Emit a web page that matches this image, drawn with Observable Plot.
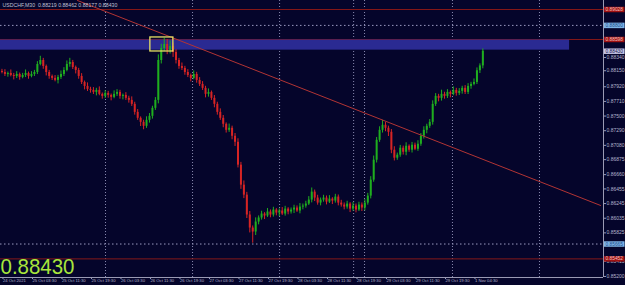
<!DOCTYPE html>
<html>
<head>
<meta charset="utf-8">
<script src="https://cdn.jsdelivr.net/npm/d3@7"></script>
<script src="https://cdn.jsdelivr.net/npm/@observablehq/plot@0.6"></script>
<style>
  html, body { margin: 0; padding: 0; background: #05052b; }
  #chart svg { display: block; }
</style>
</head>
<body>
<div id="chart"></div>
<script>
// ---------------- data ----------------
const symbol = "USDCHF,M30";
const firstOpen = 0.88140;
const closes = [
  0.88125,0.88097,0.88111,0.88082,0.88068,0.88097,0.88054,0.88082,0.88111,0.88068,0.88097,0.88125,
  0.88240,0.88297,0.88211,0.88125,
  0.88068,0.88040,0.88011,0.88054,0.88097,
  0.88154,0.88240,0.88268,0.88197,0.88154,
  0.88068,0.87982,0.87925,0.87883,0.87868,
  0.87839,0.87868,0.87811,0.87782,0.87825,0.87796,0.87768,0.87811,0.87839,0.87782,0.87796,0.87754,0.87725,0.87668,
  0.87553,0.87468,0.87410,0.87353,0.87439,0.87496,
  0.87611,0.87725,0.88297,
  0.88469,0.88526,0.88440,0.88497,0.88411,
  0.88297,0.88211,0.88183,
  0.88125,0.88082,0.88040,0.88097,0.88011,0.87954,
  0.87897,0.87811,0.87839,0.87754,0.87668,
  0.87553,0.87468,0.87382,0.87296,0.87325,0.87210,0.87124,
  0.86796,0.86509,0.86366,
  0.86081,0.85894,0.85837,0.85980,
  0.86038,0.86095,0.86066,0.86124,0.86081,0.86152,0.86109,0.86138,0.86095,0.86166,0.86124,0.86152,0.86181,0.86138,0.86195,
  0.86209,0.86238,0.86295,0.86409,0.86324,0.86252,0.86295,
  0.86324,0.86266,0.86309,0.86281,0.86338,0.86252,0.86224,
  0.86195,0.86238,0.86166,0.86209,0.86152,0.86224,0.86181,0.86252,
  0.86352,0.86581,0.86867,0.87153,0.87296,
  0.87368,0.87325,0.87267,
  0.87010,0.86896,0.86939,
  0.87039,0.86981,0.87067,0.87010,0.87082,0.87024,0.87096,
  0.87210,0.87296,0.87353,0.87410,
  0.87668,0.87782,0.87754,0.87811,
  0.87782,0.87839,0.87811,0.87868,0.87825,0.87854,0.87897,0.87839,
  0.87925,0.87954,0.87982,
  0.88150,0.88219,0.88430
];
// wick lengths in pips (0.0001) above / below the body
const wickHi = [
  3,4,2,5,3,4,2,3,5,2,4,3, 4,6,3,2, 3,2,4,3,5, 4,5,6,3,2, 3,4,2,5,3,
  4,3,5,2,4,3,2,5,4,3,2,4,3,5, 3,4,2,3,5,4, 3,4,8, 6,9,7,8,5, 4,3,5,
  3,4,2,5,3,4, 4,3,5,2,4, 3,5,4,2,6,3,4, 5,4,6, 4,5,3,6,
  3,4,2,5,3,4,2,3,5,4,2,3,4,3,5, 3,4,5,6,3,4,3, 4,3,5,2,4,3,4,
  3,4,2,5,3,4,3,5, 4,5,6,4,5, 7,4,3, 4,5,3, 4,3,5,2,4,3,5, 4,5,3,4,
  5,4,3,6, 3,4,2,5,3,4,3,4, 4,3,5, 4,3,3.2
];
const wickLo = [
  2,3,4,2,5,3,4,2,3,4,2,3, 3,2,4,5, 4,3,2,5,3, 3,2,4,3,5, 4,3,5,3,4,
  3,5,2,4,3,4,5,2,3,4,5,3,4,3, 4,3,6,5,3,4, 4,3,5, 5,4,6,5,7, 5,4,3,
  4,3,5,2,4,3, 3,5,4,3,5, 4,3,5,4,3,5,6, 4,6,5, 5,7,16,5,
  4,3,5,2,4,3,4,5,2,3,4,3,5,2,4, 4,3,2,4,5,3,4, 3,4,2,5,3,4,3,
  4,3,5,3,4,2,5,4, 3,4,3,4,3, 4,5,6, 5,4,3, 3,4,5,3,4,2,3, 3,4,5,3,
  4,3,5,4, 4,3,5,2,4,3,4,3, 3,4,2, 3,4,4.2
];
const xTicks = [0,10,20,30,40,50,60,70,80,90,100,110,120,130,140,150,160];
const xLabels = ["24 Oct 2021","25 Oct 03:30","25 Oct 11:30","25 Oct 19:30","26 Oct 03:30","26 Oct 11:30",
  "26 Oct 19:30","27 Oct 03:30","27 Oct 11:30","27 Oct 19:30","28 Oct 03:30","28 Oct 11:30","28 Oct 19:30",
  "29 Oct 03:30","29 Oct 11:30","29 Oct 19:30","1 Nov 04:30"];
const yTicks = [0.88340,0.88150,0.87920,0.87710,0.87500,0.87290,0.87080,0.86875,0.86660,0.86455,0.86245,0.86035,0.85825,0.85415,0.85200];
const separators = [35.1, 64.6, 94.1, 119.2, 122.9, 152.7, 182.2];
const redLevels = [0.89028, 0.88598, 0.85452];
const dotLevels = [0.88800, 0.85665];
const zoneBand = [{x1: -0.5, x2: 192.4, y1: 0.88590, y2: 0.88445}];
const highlightBox = [{x1: 50.3, x2: 58.1, y1: 0.88627, y2: 0.88426}];
const trendLine = [{i: 25.6, p: 0.89157}, {i: 202.9, p: 0.86218}];

// ---------------- build ----------------
const bars = closes.map((c, i) => {
  const o = i === 0 ? firstOpen : closes[i - 1];
  return {i, o, c, h: Math.max(o, c) + wickHi[i] * 1e-4, l: Math.min(o, c) - wickLo[i] * 1e-4};
});
const last = bars[bars.length - 1];
const header = `${symbol}  ${last.o.toFixed(5)} ${last.h.toFixed(5)} ${last.l.toFixed(5)} ${last.c.toFixed(5)}`;
const bid = last.c;

const bg = "#05052b", bull = "#1fae1f", bear = "#d62424";
const xDom = [-0.5, 203.9], yDom = [0.85185, 0.89157];
const xEnd = xDom[1];
const labelMap = new Map(xTicks.map((t, k) => [t, xLabels[k]]));

const priceTags = [
  {p: redLevels[0], bg: "#a01212", fg: "#f0c0c0"},
  {p: dotLevels[0], bg: "#7fb4e6", fg: "#1e4c88"},
  {p: redLevels[1], bg: "#a01212", fg: "#f0c0c0"},
  {p: bid, bg: "#c4c4e4", fg: "#15154a"},
  {p: dotLevels[1], bg: "#7fb4e6", fg: "#1e4c88"},
  {p: redLevels[2], bg: "#a01212", fg: "#f0c0c0"}
];

const chart = Plot.plot({
  width: 625, height: 285,
  marginLeft: 0, marginRight: 22, marginTop: 0, marginBottom: 8,
  style: {background: bg, color: "#b4b4cc", fontFamily: "Liberation Sans, Arial, sans-serif", fontSize: "5px"},
  x: {domain: xDom, axis: null},
  y: {domain: yDom, axis: null},
  color: {type: "identity"},
  marks: [
    Plot.ruleX(separators, {stroke: "#8a8ab0", strokeDasharray: "1,2", strokeWidth: 1}),
    Plot.ruleY(dotLevels, {stroke: "#9a9ac0", strokeDasharray: "1.5,2.5", strokeWidth: 1}),
    Plot.ruleY(redLevels, {stroke: "#861818", strokeWidth: 1}),
    Plot.rect(zoneBand, {x1: "x1", x2: "x2", y1: "y1", y2: "y2", fill: "#2a2a92"}),
    Plot.ruleX(bars, {x: "i", y1: "l", y2: "h", stroke: d => d.c >= d.o ? bull : bear, strokeWidth: 1}),
    Plot.ruleX(bars, {x: "i", y1: "o", y2: "c", stroke: d => d.c >= d.o ? bull : bear, strokeWidth: 2}),
    Plot.line(trendLine, {x: "i", y: "p", stroke: "#b23434", strokeWidth: 1}),
    Plot.rect(highlightBox, {x1: "x1", x2: "x2", y1: "y1", y2: "y2", fill: "none", stroke: "#e6e064", strokeWidth: 1.3}),
    Plot.ruleY([yDom[0]], {stroke: "#9a9ab4"}),
    Plot.ruleX([xEnd], {stroke: "#9a9ab4"}),
    Plot.axisY({anchor: "right", ticks: yTicks, tickFormat: d => d.toFixed(5), tickSize: 2, tickPadding: 1, fontSize: 5, fill: "#b4b4cc", stroke: "#9a9ab4"}),
    Plot.axisX({anchor: "bottom", ticks: xTicks, tickFormat: d => labelMap.get(d), textAnchor: "start", tickSize: 2, tickPadding: 0, dx: 1, fontSize: 4.2, fill: "#b4b4cc", stroke: "#9a9ab4"}),
    Plot.ruleY(priceTags, {y: "p", x1: xEnd + 0.3, x2: xEnd + 7.3, stroke: "bg", strokeWidth: 5.5}),
    Plot.text(priceTags, {y: "p", x: xEnd + 0.7, text: d => d.p.toFixed(5), fill: "fg", textAnchor: "start", fontSize: 4.8}),
    Plot.text([header], {frameAnchor: "top-left", text: d => d, dx: 2, dy: 3, fontSize: 5.2, fill: "#c0c0d4", textAnchor: "start"}),
    Plot.text([bid.toFixed(5)], {frameAnchor: "bottom-left", text: d => d, dx: 0, dy: -4, fontSize: 22, fill: "#a8e63c", textAnchor: "start", className: "bidbig"})
  ]
});
document.getElementById("chart").appendChild(chart);
const big = chart.querySelector(".bidbig text");
if (big) { big.setAttribute("textLength", "74"); big.setAttribute("lengthAdjust", "spacingAndGlyphs"); }
</script>
</body>
</html>
